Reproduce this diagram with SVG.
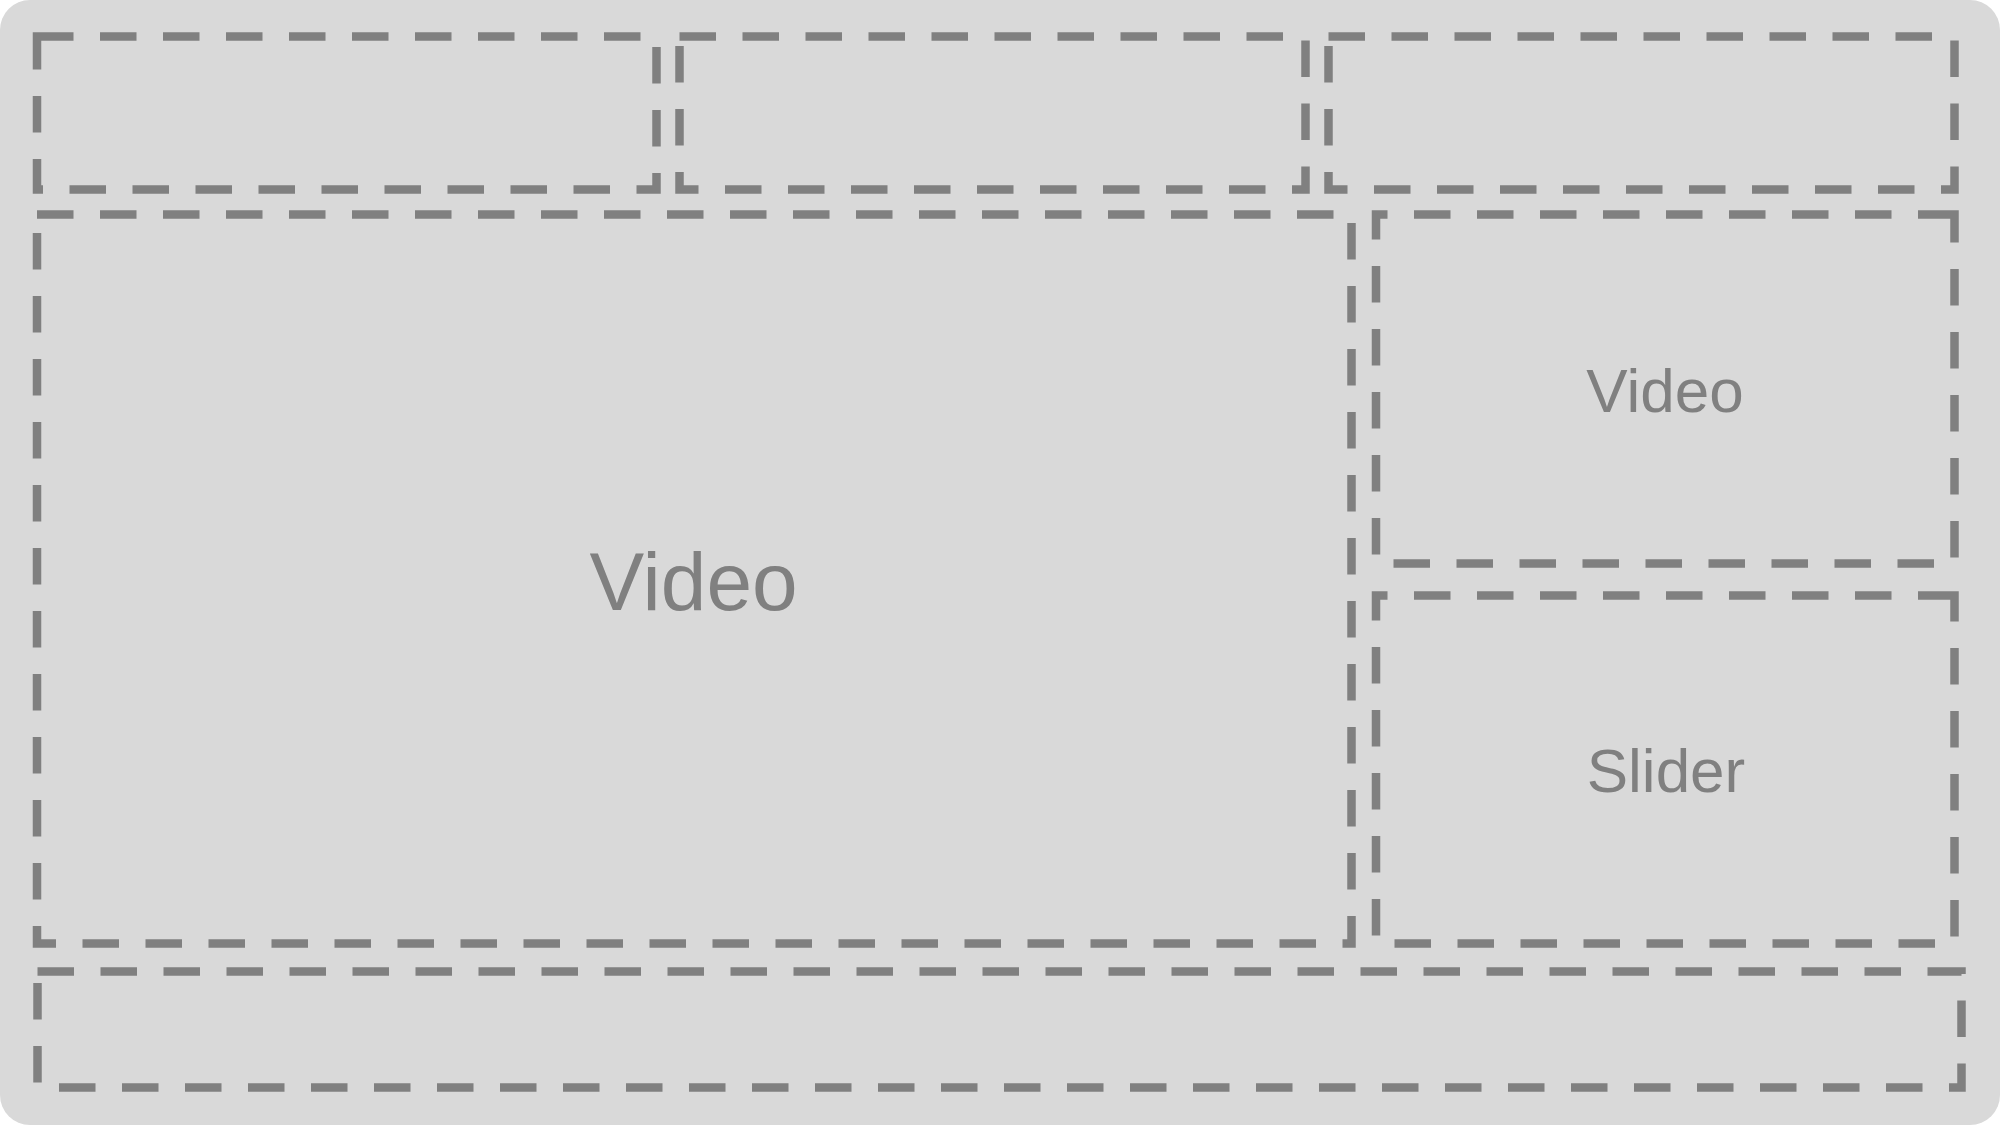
<svg xmlns="http://www.w3.org/2000/svg" width="2000" height="1125" viewBox="0 0 2000 1125">
  <style>
    .box { fill: none; stroke: #808080; stroke-width: 8.5; stroke-dasharray: 36.5 26.5; }
    .lbl { font-family: "Liberation Sans", Arial, Helvetica, sans-serif; fill: #808080; text-anchor: middle; }
  </style>
  <rect id="background" x="0" y="0" width="2000" height="1125" rx="30" ry="30" fill="#d9d9d9"/>
  <g id="header-left"><rect class="box" x="37" y="36.5" width="619.5" height="153"/></g>
  <g id="header-center"><rect class="box" x="679.5" y="36.5" width="626" height="153"/></g>
  <g id="header-right"><rect class="box" x="1328.5" y="36.5" width="626" height="153"/></g>
  <g id="main-video">
    <rect class="box" x="37" y="214.5" width="1314.5" height="729"/>
    <text class="lbl" x="693.5" y="610" font-size="82">Video</text>
  </g>
  <g id="side-video">
    <path class="box" d="M1954.5 214.5 H1376 V563.5 H1954.5 Z"/>
    <text class="lbl" x="1665" y="412" font-size="62">Video</text>
  </g>
  <g id="slider">
    <path class="box" d="M1954.5 595.5 H1376 V943.5 H1954.5 Z"/>
    <text class="lbl" x="1666" y="792" font-size="62">Slider</text>
  </g>
  <g id="footer"><rect class="box" x="37.5" y="971.5" width="1924" height="116"/></g>
  <g id="connectors"></g>
</svg>
